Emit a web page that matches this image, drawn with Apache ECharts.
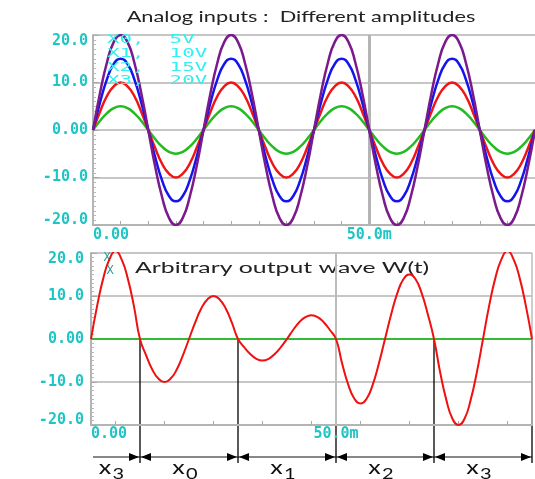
<!DOCTYPE html>
<html><head><meta charset="utf-8">
<script src="https://cdn.jsdelivr.net/npm/echarts@6/dist/echarts.min.js"></script>
<style>html,body{margin:0;padding:0;background:#fff}#c{width:535px;height:479px}</style>
</head><body><div id="c"></div>
<script>
// ---- data, time in ms ----
const timeTop = [0,1.25,2.5,3.75,5,6.25,7.5,8.75,10,11.25,12.5,13.75,15,16.25,17.5,18.75,
  20,21.25,22.5,23.75,25,26.25,27.5,28.75,30,31.25,32.5,33.75,35,36.25,37.5,38.75,
  40,41.25,42.5,43.75,45,46.25,47.5,48.75,50,51.25,52.5,53.75,55,56.25,57.5,58.75,
  60,61.25,62.5,63.75,65,66.25,67.5,68.75,70,71.25,72.5,73.75,75,76.25,77.5,78.75,80];
const in5V = [0,1.9,3.5,4.6,5,4.6,3.5,1.9,0,-1.9,-3.5,-4.6,-5,-4.6,-3.5,-1.9,
  0,1.9,3.5,4.6,5,4.6,3.5,1.9,0,-1.9,-3.5,-4.6,-5,-4.6,-3.5,-1.9,
  0,1.9,3.5,4.6,5,4.6,3.5,1.9,0,-1.9,-3.5,-4.6,-5,-4.6,-3.5,-1.9,
  0,1.9,3.5,4.6,5,4.6,3.5,1.9,0,-1.9,-3.5,-4.6,-5,-4.6,-3.5,-1.9,0];
const in10V = [0,3.8,7.1,9.2,10,9.2,7.1,3.8,0,-3.8,-7.1,-9.2,-10,-9.2,-7.1,-3.8,
  0,3.8,7.1,9.2,10,9.2,7.1,3.8,0,-3.8,-7.1,-9.2,-10,-9.2,-7.1,-3.8,
  0,3.8,7.1,9.2,10,9.2,7.1,3.8,0,-3.8,-7.1,-9.2,-10,-9.2,-7.1,-3.8,
  0,3.8,7.1,9.2,10,9.2,7.1,3.8,0,-3.8,-7.1,-9.2,-10,-9.2,-7.1,-3.8,0];
const in15V = [0,5.7,10.6,13.9,15,13.9,10.6,5.7,0,-5.7,-10.6,-13.9,-15,-13.9,-10.6,-5.7,
  0,5.7,10.6,13.9,15,13.9,10.6,5.7,0,-5.7,-10.6,-13.9,-15,-13.9,-10.6,-5.7,
  0,5.7,10.6,13.9,15,13.9,10.6,5.7,0,-5.7,-10.6,-13.9,-15,-13.9,-10.6,-5.7,
  0,5.7,10.6,13.9,15,13.9,10.6,5.7,0,-5.7,-10.6,-13.9,-15,-13.9,-10.6,-5.7,0];
const in20V = [0,7.7,14.1,18.5,20,18.5,14.1,7.7,0,-7.7,-14.1,-18.5,-20,-18.5,-14.1,-7.7,
  0,7.7,14.1,18.5,20,18.5,14.1,7.7,0,-7.7,-14.1,-18.5,-20,-18.5,-14.1,-7.7,
  0,7.7,14.1,18.5,20,18.5,14.1,7.7,0,-7.7,-14.1,-18.5,-20,-18.5,-14.1,-7.7,
  0,7.7,14.1,18.5,20,18.5,14.1,7.7,0,-7.7,-14.1,-18.5,-20,-18.5,-14.1,-7.7,0];
const legendTop = ['X0,  5V','X1,  10V','X2,  15V','X3,  20V'];

const timeBottom = [0,1.25,2.5,3.75,5,6.25,7.5,8.75,10,11.25,12.5,13.75,15,16.25,17.5,18.75,
  20,21.25,22.5,23.75,25,26.25,27.5,28.75,30,31.25,32.5,33.75,35,36.25,37.5,38.75,
  40,41.25,42.5,43.75,45,46.25,47.5,48.75,50,51.25,52.5,53.75,55,56.25,57.5,58.75,
  60,61.25,62.5,63.75,65,66.25,67.5,68.75,70,71.25,72.5,73.75,75,76.25,77.5,78.75,
  80,81.25,82.5,83.75,85,86.25,87.5,88.75,90];
const waveW = [0,7.7,14.1,18.5,20.5,18.5,14.1,7.7,
  0,-3.8,-7.1,-9.2,-10,-9.2,-7.1,-3.8,0,3.8,7.1,9.2,10,9.2,7.1,3.8,
  0,-1.9,-3.5,-4.6,-5,-4.6,-3.5,-1.9,0,2.1,3.9,5.1,5.5,5.1,3.9,2.1,
  0,-5.7,-10.6,-13.9,-15,-13.9,-10.6,-5.7,0,5.7,10.6,13.9,15,13.9,10.6,5.7,
  0,-7.7,-14.1,-18.5,-20,-18.5,-14.1,-7.7,0,7.7,14.1,18.5,20.5,18.5,14.1,7.7,0];

const segStart = [0,10,30,50,70];
const segEnd   = [10,30,50,70,90];
const segSub   = ['3','0','1','2','3'];

const topTickValues = [5,10,15,20,25,30,35,40,45,50,55,60,65,70,75];
const bottomTickValues = [5,15,25,35,45,55,65,75,85];
const xLabelValues = [0,50];

// ---- styling ----
const tickCol = '#1fc4c4';
const mono = '"DejaVu Sans Mono", monospace';
const sans = 'Lato, "Open Sans", sans-serif';
const gridCol = '#c6c6c6';
const axisCol = '#b4b4b4';

const pair = (t, v) => t.map((x, i) => [x, v[i]]);

const lblBase = {fontFamily: mono, fontWeight: 'bold', fontSize: 15, color: tickCol};
function yFmt(v) {
  const s = v === 0 ? '0.00' : (v < 0 ? '-' : '') + Math.abs(v).toFixed(1);
  if (v === 20) return '{t|' + s + '}';
  if (v === -20) return '{b|' + s + '}';
  return '{m|' + s + '}';
}
const yRich = {
  m: Object.assign({}, lblBase),
  t: Object.assign({padding: [12, 0, 0, 0]}, lblBase),
  b: Object.assign({padding: [0, 0, 10, 0]}, lblBase)
};
const xFmt = v => v === 0 ? '0.00' : '50.0m';

function xAxisCfg(gi, max, ticks, margin) {
  return {
    type: 'value', gridIndex: gi, min: 0, max: max, interval: 50,
    axisLine: {onZero: false, lineStyle: {color: axisCol, width: 2}},
    axisTick: {show: true, inside: true, length: 4, customValues: ticks, lineStyle: {color: '#a8a8a8', width: 1}},
    axisLabel: Object.assign({customValues: xLabelValues, formatter: xFmt, margin: margin, alignMinLabel: 'left'}, lblBase),
    splitLine: {show: false}
  };
}
function yAxisCfg(gi, margin) {
  return {
    type: 'value', gridIndex: gi, min: -20, max: 20, interval: 10,
    axisLine: {show: true, onZero: false, lineStyle: {color: axisCol, width: 2}},
    axisTick: {show: true, inside: true, length: 6, lineStyle: {color: '#a8a8a8'}},
    minorTick: {show: true, splitNumber: 10, length: 3, lineStyle: {color: '#b8b8b8'}},
    axisLabel: {formatter: yFmt, rich: yRich, margin: margin},
    splitLine: {show: true, lineStyle: {color: gridCol, width: 2}}
  };
}
function wave(name, t, v, color, xi, width) {
  return {name: name, type: 'line', xAxisIndex: xi, yAxisIndex: xi, data: pair(t, v),
    showSymbol: false, smooth: true, lineStyle: {color: color, width: width}, silent: true, z: 5};
}

const chart = echarts.init(document.getElementById('c'), null, {renderer: 'canvas'});
chart.setOption({
  animation: false,
  grid: [
    {left: 93, top: 35, width: 442, height: 190},
    {left: 91, top: 253, width: 441, height: 172}
  ],
  xAxis: [xAxisCfg(0, 80, topTickValues, 3), xAxisCfg(1, 90, bottomTickValues, 2)],
  yAxis: [yAxisCfg(0, 5), yAxisCfg(1, 7)],
  series: [
    {type: 'line', xAxisIndex: 0, yAxisIndex: 0, data: [], silent: true, z: 2,
      markLine: {silent: true, symbol: 'none', label: {show: false},
        lineStyle: {color: '#b4b4b4', width: 3, type: 'solid'}, data: [{xAxis: 50}]}},
    wave('X0', timeTop, in5V, '#22bb22', 0, 2.5),
    wave('X1', timeTop, in10V, '#f01414', 0, 2.5),
    wave('X2', timeTop, in15V, '#1414ee', 0, 2.5),
    wave('X3', timeTop, in20V, '#7a1a8c', 0, 2.5),
    {type: 'line', xAxisIndex: 1, yAxisIndex: 1, data: [], silent: true, z: 2,
      markLine: {silent: true, symbol: 'none', label: {show: false},
        data: [
          {xAxis: 50, lineStyle: {color: '#bcbcbc', width: 2, type: 'solid'}},
          {xAxis: 90, lineStyle: {color: '#bcbcbc', width: 1.5, type: 'solid'}},
          {yAxis: 0, lineStyle: {color: '#33bb33', width: 2, type: 'solid'}}
        ]}},
    wave('W(t)', timeBottom, waveW, '#f01010', 1, 2)
  ]
});

// annotations positioned from the axes
const g = [];
const title = 'Analog inputs :  Different amplitudes';
g.push({type: 'text', x: 301, y: 17, scaleX: 1.45, silent: true,
  style: {text: title, fontFamily: sans, fontSize: 15, fill: '#222', align: 'center', verticalAlign: 'middle'}});
const lg0 = chart.convertToPixel({gridIndex: 0}, [0, 20]);
legendTop.forEach((s, i) => {
  g.push({type: 'text', x: lg0[0] + 14, y: lg0[1] + 5 + i * 13.7, scaleX: 1.6, silent: true, z: 10,
    style: {text: s, fontFamily: mono, fontSize: 13, fill: '#30f0f0', align: 'left', verticalAlign: 'middle'}});
});
const lg1 = chart.convertToPixel({gridIndex: 1}, [0, 20]);
g.push({type: 'text', x: lg1[0] + 16, y: lg1[1] + 5, silent: true, style: {text: 'X', fontFamily: mono, fontSize: 12, fill: '#2a9c9c', align: 'center', verticalAlign: 'middle'}});
g.push({type: 'text', x: lg1[0] + 19, y: lg1[1] + 18, silent: true, style: {text: 'X', fontFamily: mono, fontSize: 12, fill: '#2a9c9c', align: 'center', verticalAlign: 'middle'}});
g.push({type: 'text', x: lg1[0] + 44, y: lg1[1] + 15, scaleX: 1.55, silent: true,
  style: {text: 'Arbitrary output wave W(t)', fontFamily: sans, fontSize: 16, fill: '#222', align: 'left', verticalAlign: 'middle'}});

const arrowY = 457;
const x0 = chart.convertToPixel({gridIndex: 1}, [0, 0]);
const xEnd = chart.convertToPixel({gridIndex: 1}, [90, 0]);
g.push({type: 'line', silent: true, shape: {x1: x0[0] + 2, y1: arrowY, x2: xEnd[0], y2: arrowY}, style: {stroke: '#111', lineWidth: 1}});
segEnd.forEach((b, i) => {
  const p = chart.convertToPixel({gridIndex: 1}, [b, 0]);
  g.push({type: 'line', silent: true, shape: {x1: p[0], y1: p[1], x2: p[0], y2: 463}, style: {stroke: '#000', lineWidth: 1.3}});
  g.push({type: 'polygon', silent: true, shape: {points: [[p[0] - 1, arrowY], [p[0] - 11, arrowY - 4], [p[0] - 11, arrowY + 4]]}, style: {fill: '#000'}});
  if (i < segEnd.length - 1) {
    g.push({type: 'polygon', silent: true, shape: {points: [[p[0] + 1, arrowY], [p[0] + 11, arrowY - 4], [p[0] + 11, arrowY + 4]]}, style: {fill: '#000'}});
  }
});
segStart.forEach((s, i) => {
  const a = chart.convertToPixel({gridIndex: 1}, [s, 0])[0];
  const b = chart.convertToPixel({gridIndex: 1}, [segEnd[i], 0])[0];
  g.push({type: 'text', x: (a + b) / 2 - 4, y: 468, scaleX: 1.25, silent: true,
    style: {text: '{a|x}{b|' + segSub[i] + '}', align: 'center', verticalAlign: 'middle',
      rich: {a: {fontFamily: sans, fontSize: 20, fill: '#111'},
             b: {fontFamily: sans, fontSize: 16, fill: '#111', padding: [12, 0, 0, 1]}}}});
});
chart.setOption({graphic: g});
</script></body></html>
